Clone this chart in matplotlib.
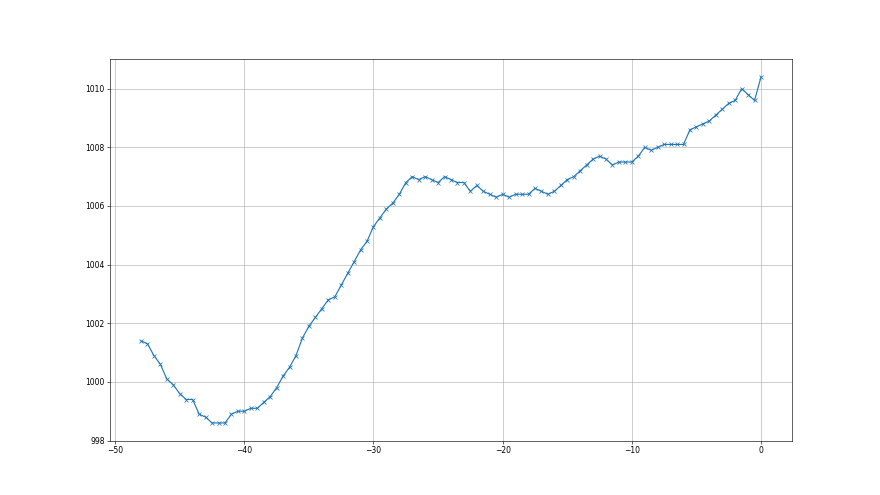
import numpy as np
import matplotlib.pyplot as plt

# hours before now, pressure (hPa)
hours = np.arange(-48, 0.5, 0.5)
pressure = [
    1001.4, 1001.3, 1000.9, 1000.6, 1000.1, 999.9, 999.6, 999.4, 999.4, 998.9,
    998.8, 998.6, 998.6, 998.6, 998.9, 999.0, 999.0, 999.1, 999.1, 999.3,
    999.5, 999.8, 1000.2, 1000.5, 1000.9, 1001.5, 1001.9, 1002.2, 1002.5, 1002.8,
    1002.9, 1003.3, 1003.7, 1004.1, 1004.5, 1004.8, 1005.3, 1005.6, 1005.9, 1006.1,
    1006.4, 1006.8, 1007.0, 1006.9, 1007.0, 1006.9, 1006.8, 1007.0, 1006.9, 1006.8,
    1006.8, 1006.5, 1006.7, 1006.5, 1006.4, 1006.3, 1006.4, 1006.3, 1006.4, 1006.4,
    1006.4, 1006.6, 1006.5, 1006.4, 1006.5, 1006.7, 1006.9, 1007.0, 1007.2, 1007.4,
    1007.6, 1007.7, 1007.6, 1007.4, 1007.5, 1007.5, 1007.5, 1007.7, 1008.0, 1007.9,
    1008.0, 1008.1, 1008.1, 1008.1, 1008.1, 1008.6, 1008.7, 1008.8, 1008.9, 1009.1,
    1009.3, 1009.5, 1009.6, 1010.0, 1009.8, 1009.6, 1010.4,
]

plt.figure(figsize=(16, 9), dpi=55)
plt.plot(hours, pressure, marker='x')
plt.ylim(998, 1011)
plt.grid()
plt.savefig("out.png")
